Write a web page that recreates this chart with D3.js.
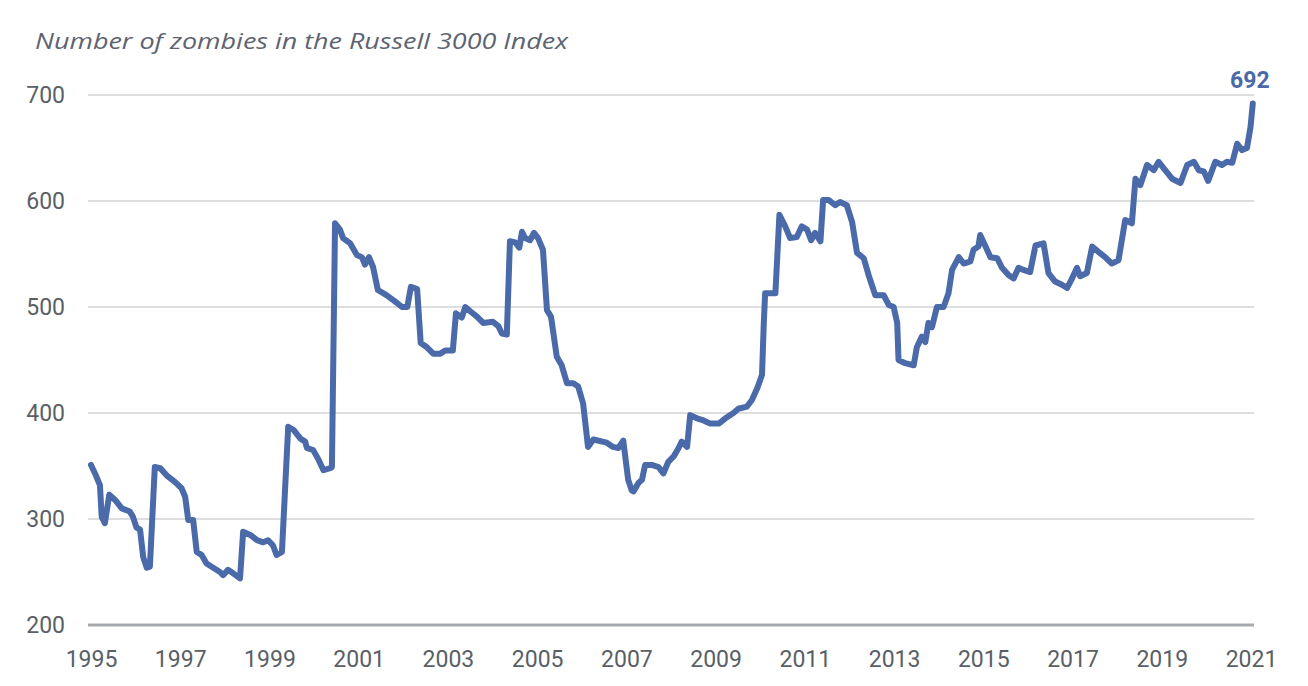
<!DOCTYPE html>
<html>
<head>
<meta charset="utf-8">
<script src="https://cdn.jsdelivr.net/npm/d3@7"></script>
<style>
  html, body { margin: 0; padding: 0; background: #ffffff; }
  svg { display: block; }
</style>
</head>
<body>
<svg id="chart" width="1308" height="686"></svg>
<script>
// ---- Data ----
const title = "Number of zombies in the Russell 3000 Index";
const dates = [
  1995.00,1995.09,1995.20,1995.24,1995.31,1995.41,1995.54,1995.69,1995.87,1995.94,
  1996.02,1996.10,1996.17,1996.25,1996.32,1996.43,1996.55,1996.70,1996.88,1997.03,
  1997.11,1997.18,1997.29,1997.37,1997.48,1997.59,1997.74,1997.89,1997.96,1998.07,
  1998.18,1998.34,1998.41,1998.57,1998.72,1998.86,1998.97,1999.08,1999.16,1999.28,
  1999.42,1999.54,1999.69,1999.80,1999.84,1999.98,2000.10,2000.21,2000.36,2000.40,
  2000.47,2000.58,2000.65,2000.81,2000.96,2001.07,2001.14,2001.23,2001.32,2001.43,
  2001.63,2001.82,2001.97,2002.09,2002.17,2002.31,2002.39,2002.53,2002.67,2002.83,
  2002.94,2003.11,2003.18,2003.31,2003.39,2003.50,2003.65,2003.79,2004.01,2004.13,
  2004.21,2004.32,2004.39,2004.51,2004.60,2004.66,2004.73,2004.84,2004.93,2005.02,
  2005.13,2005.22,2005.31,2005.44,2005.55,2005.67,2005.81,2005.92,2006.03,2006.14,
  2006.26,2006.56,2006.70,2006.82,2006.93,2007.04,2007.12,2007.16,2007.27,2007.35,
  2007.42,2007.57,2007.72,2007.83,2007.94,2008.06,2008.17,2008.24,2008.36,2008.43,
  2008.58,2008.73,2008.88,2009.07,2009.22,2009.40,2009.51,2009.70,2009.81,2009.93,
  2010.04,2010.08,2010.11,2010.34,2010.43,2010.56,2010.67,2010.82,2010.93,2011.05,
  2011.14,2011.23,2011.35,2011.41,2011.53,2011.68,2011.79,2011.94,2012.06,2012.17,
  2012.32,2012.43,2012.58,2012.77,2012.88,2012.99,2013.07,2013.10,2013.25,2013.44,
  2013.51,2013.62,2013.70,2013.77,2013.85,2013.96,2014.11,2014.22,2014.30,2014.45,
  2014.56,2014.71,2014.78,2014.89,2014.93,2015.04,2015.16,2015.31,2015.42,2015.57,
  2015.68,2015.79,2015.90,2016.05,2016.17,2016.35,2016.46,2016.61,2016.76,2016.88,
  2016.99,2017.10,2017.17,2017.32,2017.44,2017.58,2017.73,2017.88,2018.03,2018.18,
  2018.33,2018.41,2018.52,2018.67,2018.82,2018.93,2019.04,2019.23,2019.42,2019.57,
  2019.72,2019.83,2019.94,2020.04,2020.20,2020.35,2020.46,2020.58,2020.69,2020.80,
  2020.91,2020.99,2021.04
];
const zombies = [
  351,343,332,302,296,323,318,310,307,302,
  292,290,264,254,255,349,348,341,335,329,
  321,299,299,269,266,258,254,250,247,252,
  249,244,288,285,280,278,280,275,266,269,
  387,384,376,373,367,365,356,346,348,349,
  579,573,565,560,549,547,540,547,538,516,
  511,505,500,500,519,517,466,462,456,456,
  459,459,494,490,500,496,491,485,486,482,
  475,474,562,561,556,571,565,563,570,565,
  554,497,491,453,445,428,428,425,409,368,
  375,372,368,367,374,337,327,326,334,337,
  351,351,349,343,354,359,367,373,368,398,
  395,393,390,390,395,400,404,406,412,423,
  436,485,513,513,587,576,565,566,576,573,
  563,570,562,601,601,596,599,596,580,551,
  546,530,511,511,502,500,485,450,447,445,
  462,472,467,485,481,500,500,513,535,547,
  541,543,554,557,568,558,547,546,537,530,
  527,537,535,533,558,560,532,524,521,518,
  527,537,529,532,557,552,547,541,544,582,
  579,621,615,634,629,637,631,621,617,634,
  637,629,628,619,637,634,637,636,654,648,
  650,670,692
];
const yTicks = [200, 300, 400, 500, 600, 700];
const xTicks = [1995, 1997, 1999, 2001, 2003, 2005, 2007, 2009, 2011, 2013, 2015, 2017, 2019, 2021];
const lastLabel = "692";

// ---- Layout ----
const svg = d3.select("#chart");
const plotLeft = 91, plotRight = 1251, plotTop = 95, plotBottom = 625;
const gridLeft = 88, gridRight = 1254;

const x = d3.scaleLinear().domain([1995, 2021]).range([plotLeft, plotRight]);
const y = d3.scaleLinear().domain([200, 700]).range([plotBottom, plotTop]);

const data = dates.map((d, i) => ({ t: d, v: zombies[i] }));

// Title
svg.append("text")
  .attr("x", 35).attr("y", 49)
  .attr("font-family", "'Open Sans', sans-serif")
  .attr("font-style", "italic")
  .attr("font-size", 22)
  .attr("textLength", 533)
  .attr("lengthAdjust", "spacingAndGlyphs")
  .attr("fill", "#5d6470")
  .text(title);

// Gridlines
svg.append("g").selectAll("line")
  .data(yTicks)
  .join("line")
  .attr("x1", gridLeft).attr("x2", gridRight)
  .attr("y1", d => y(d)).attr("y2", d => y(d))
  .attr("stroke", d => d === 200 ? "#a6a9ad" : "#d2d3d5")
  .attr("stroke-width", d => d === 200 ? 3 : 1.5);

// Y axis labels
const yAxis = d3.axisLeft(y).tickValues(yTicks).tickSize(0).tickPadding(0);
const gy = svg.append("g").attr("transform", "translate(65,0)").call(yAxis);
gy.select(".domain").remove();
gy.selectAll("text")
  .attr("font-family", "Roboto, sans-serif")
  .attr("font-size", 23)
  .attr("fill", "#5a5f66");

// X axis labels
const xAxis = d3.axisBottom(x).tickValues(xTicks).tickFormat(d3.format("d")).tickSize(0).tickPadding(0);
const gx = svg.append("g").attr("transform", `translate(0,${plotBottom + 26})`).call(xAxis);
gx.select(".domain").remove();
gx.selectAll("text")
  .attr("font-family", "Roboto, sans-serif")
  .attr("font-size", 23)
  .attr("fill", "#5a5f66");

// Line
const line = d3.line().x(d => x(d.t)).y(d => y(d.v));
svg.append("path")
  .datum(data)
  .attr("d", line)
  .attr("fill", "none")
  .attr("stroke", "#4a6aaa")
  .attr("stroke-width", 6)
  .attr("stroke-linejoin", "round")
  .attr("stroke-linecap", "round");

// End label
const last = data[data.length - 1];
svg.append("text")
  .attr("x", x(last.t) - 3)
  .attr("y", y(last.v) - 15)
  .attr("text-anchor", "middle")
  .attr("font-family", "Roboto, sans-serif")
  .attr("font-weight", "bold")
  .attr("font-size", 23)
  .attr("fill", "#4a6aaa")
  .text(lastLabel);
</script>
</body>
</html>
